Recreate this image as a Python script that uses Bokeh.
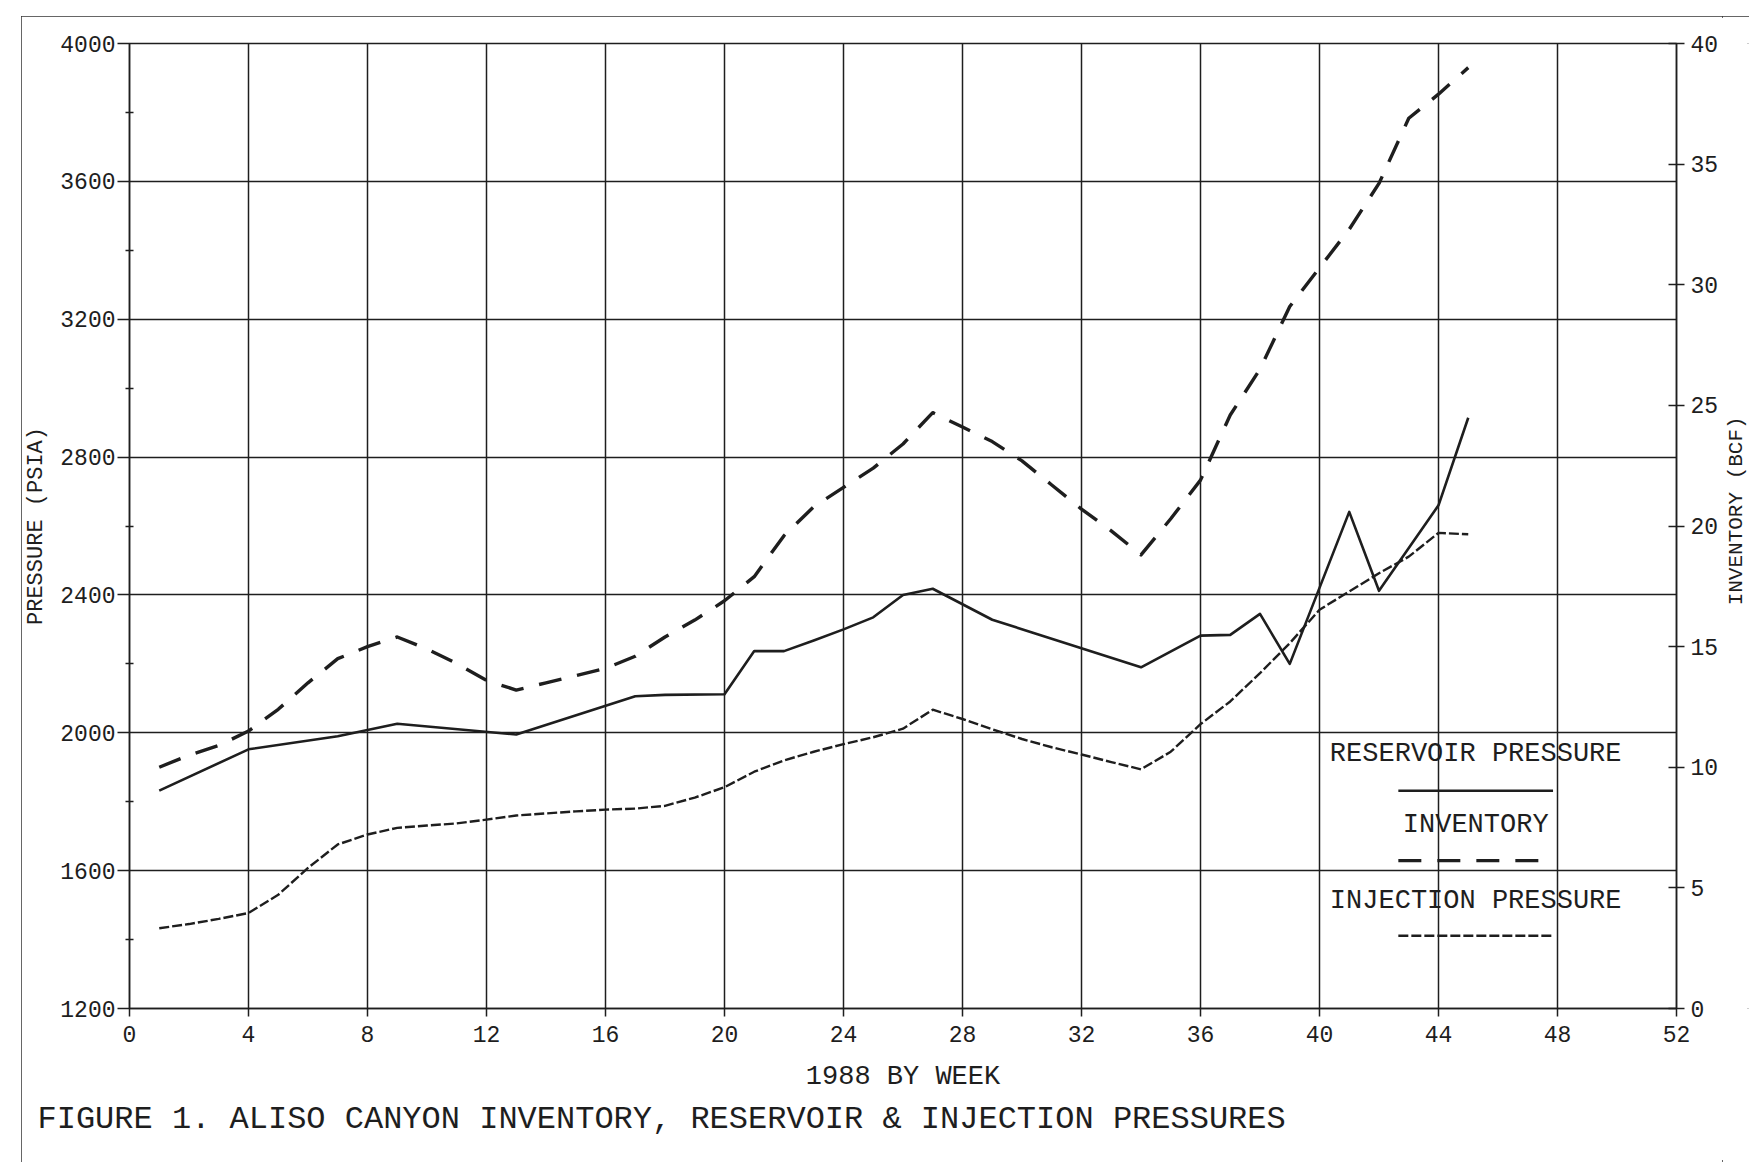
import math

from bokeh.plotting import figure
from bokeh.layouts import row
from bokeh.models import Range1d, LinearAxis, FixedTicker, Label, Title
from bokeh.embed import file_html
from bokeh.resources import INLINE

# ---- weekly data, 1988 -------------------------------------------------
weeks = list(range(1, 46))

# storage inventory, BCF (right axis)
inventory_bcf = [10.0, 10.5, 10.9, 11.5, 12.4, 13.5, 14.5, 15.0, 15.4, 14.9,
                 14.3, 13.6, 13.2, 13.5, 13.8, 14.1, 14.6, 15.4, 16.1, 16.9,
                 17.9, 19.6, 20.8, 21.6, 22.4, 23.4, 24.7, 24.1, 23.5, 22.7,
                 21.7, 20.7, 19.8, 18.8, 20.3, 21.9, 24.6, 26.5, 29.1, 30.7,
                 32.3, 34.2, 36.9, 37.9, 39.0]

# injection pressure, PSIA (left axis)
injection_psia = [1433, 1445, 1460, 1477, 1530, 1608, 1676, 1705, 1724, 1731,
                  1737, 1748, 1760, 1766, 1772, 1777, 1780, 1788, 1812, 1842,
                  1887, 1920, 1945, 1967, 1987, 2012, 2067, 2040, 2010, 1982,
                  1958, 1937, 1915, 1894, 1945, 2025, 2091, 2173, 2260, 2357,
                  2410, 2463, 2511, 2580, 2576]

# reservoir pressure survey weeks and PSIA (left axis)
reservoir_weeks = [1, 4, 7, 9, 13, 17, 18, 20, 21, 22, 23, 24, 25, 26, 27, 29,
                   34, 36, 37, 38, 39, 41, 42, 44, 45]
reservoir_psia = [1832, 1952, 1990, 2026, 1995, 2106, 2110, 2112, 2237, 2237,
                  2268, 2300, 2335, 2400, 2418, 2328, 2190, 2282, 2284, 2345,
                  2200, 2641, 2412, 2660, 2914]

# axis ticks
week_ticks = list(range(0, 53, 4))
psia_ticks = list(range(1200, 4001, 400))
psia_minor = list(range(1400, 4000, 400))
bcf_ticks = list(range(0, 41, 5))

# ---- styling -----------------------------------------------------------
FONT = "Liberation Mono"
INK = "#1e1e1e"
RES_STYLE = dict(line_width=2.6, line_dash="solid")
INV_STYLE = dict(line_width=3.4, line_dash="23 16")
INJ_STYLE = dict(line_width=2.4, line_dash="10 3")

PAGE_H = 1146
p = figure(width=1701, height=PAGE_H,
           x_range=Range1d(0, 52), y_range=Range1d(1200, 4000),
           output_backend="svg", toolbar_location=None,
           min_border_left=107, min_border_right=46,
           min_border_top=27, min_border_bottom=154,
           background_fill_color="white", border_fill_color="white")
p.outline_line_color = INK
p.outline_line_width = 1.5

p.extra_y_ranges = {"inv": Range1d(0, 40)}

# grid
p.xgrid.ticker = FixedTicker(ticks=week_ticks)
p.ygrid.ticker = FixedTicker(ticks=psia_ticks)
for g in (p.xgrid[0], p.ygrid[0]):
    g.grid_line_color = INK
    g.grid_line_width = 1.5
    g.grid_line_alpha = 1.0


def style_axis(ax, label, label_size):
    if label:
        ax.axis_label = label
    ax.axis_label_text_font = FONT
    ax.axis_label_text_font_size = label_size
    ax.axis_label_text_font_style = "normal"
    ax.axis_label_text_color = INK
    ax.major_label_text_font = FONT
    ax.major_label_text_font_size = "23px"
    ax.major_label_text_color = INK
    ax.axis_line_color = INK
    ax.axis_line_width = 1.5
    ax.major_tick_line_color = INK
    ax.major_tick_line_width = 1.5
    ax.minor_tick_line_color = INK
    ax.minor_tick_line_width = 1.3


xa = p.xaxis[0]
style_axis(xa, "1988 BY WEEK", "27px")
xa.ticker = FixedTicker(ticks=week_ticks)
xa.major_tick_in = 0
xa.major_tick_out = 8
xa.minor_tick_in = 0
xa.minor_tick_out = 0
xa.major_label_standoff = 9
xa.axis_label_standoff = 17

ya = p.yaxis[0]
style_axis(ya, "PRESSURE (PSIA)", "22px")
ya.ticker = FixedTicker(ticks=psia_ticks, minor_ticks=psia_minor)
ya.major_tick_in = 0
ya.major_tick_out = 12
ya.minor_tick_in = 4
ya.minor_tick_out = 4
ya.major_label_standoff = 2
ya.axis_label_standoff = 8

# right-hand inventory scale
ra = LinearAxis(y_range_name="inv")
style_axis(ra, None, "22px")
ra.ticker = FixedTicker(ticks=bcf_ticks)
ra.major_tick_in = 8
ra.major_tick_out = 8
ra.minor_tick_in = 0
ra.minor_tick_out = 0
ra.major_label_standoff = 6
p.add_layout(ra, "right")

# ---- series ------------------------------------------------------------
p.line(reservoir_weeks, reservoir_psia, line_color=INK, line_join="round",
       **RES_STYLE)
p.line(weeks, inventory_bcf, y_range_name="inv", line_color=INK,
       line_join="round", **INV_STYLE)
p.line(weeks, injection_psia, line_color=INK, line_join="round", **INJ_STYLE)

# ---- key (caption above a line sample) ---------------------------------
KEY_X = 45.25        # week at the centre of the key
KEY_HALF = 2.6       # half length of a sample, weeks
key_rows = [
    ("RESERVOIR PRESSURE", 1937, 1832, RES_STYLE),
    ("INVENTORY", 1732, 1629, INV_STYLE),
    ("INJECTION PRESSURE", 1512, 1411, INJ_STYLE),
]
for text, text_y, line_y, style in key_rows:
    p.add_layout(Label(x=KEY_X, y=text_y, text=text, text_font=FONT,
                       text_font_size="27px", text_color=INK,
                       text_align="center", text_baseline="middle",
                       background_fill_color=None))
    p.segment(x0=[KEY_X - KEY_HALF], y0=[line_y], x1=[KEY_X + KEY_HALF],
              y1=[line_y], line_color=INK, **style)

# ---- caption -----------------------------------------------------------
caption = Title(text="FIGURE 1. ALISO CANYON INVENTORY, RESERVOIR & INJECTION PRESSURES",
                text_font=FONT, text_font_size="32px", text_font_style="normal",
                text_color=INK, align="left", offset=-92, standoff=9)
p.add_layout(caption, "below")

# ---- strip carrying the right-hand axis title, reading upward ----------
STRIP_W = 27
strip = figure(width=STRIP_W, height=PAGE_H,
               x_range=Range1d(0, STRIP_W), y_range=Range1d(0, PAGE_H),
               output_backend="svg", toolbar_location=None,
               x_axis_location=None, y_axis_location=None,
               min_border=0, outline_line_color=None,
               background_fill_color="white", border_fill_color="white")
strip.grid.visible = False
strip.add_layout(Label(x=14, y=PAGE_H - 555, text="INVENTORY (BCF)",
                       angle=math.pi / 2, text_font=FONT,
                       text_font_size="21px", text_color=INK,
                       text_align="center", text_baseline="middle"))

page = row(p, strip, spacing=0, margin=(16, 0, 0, 21),
           styles={"outline": "2px solid #333", "outline-offset": "-2px"})

open("out.html", "w").write(file_html(page, INLINE))
